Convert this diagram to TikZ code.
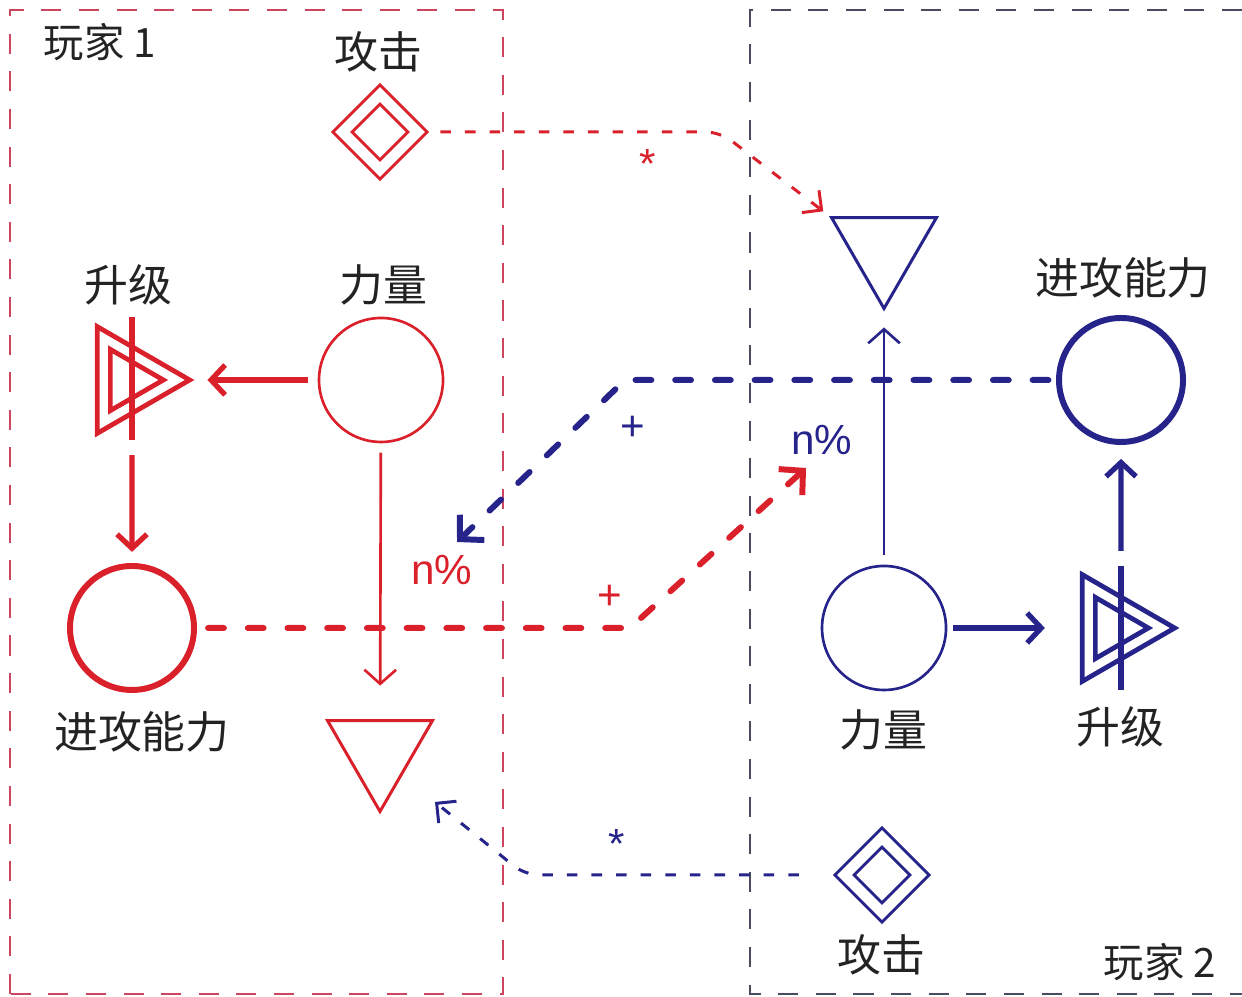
\documentclass[tikz,border=0pt]{standalone}
\usepackage{fontspec}
\newfontfamily\cjk{Noto Sans CJK SC}
\newfontfamily\arialfont{Liberation Sans}
\usetikzlibrary{arrows.meta, shapes.geometric, calc}
\definecolor{redc}{RGB}{218,32,42}
\definecolor{bluec}{RGB}{38,36,138}
\definecolor{redbox}{RGB}{205,70,95}
\definecolor{bluebox}{RGB}{75,75,95}
\definecolor{textc}{RGB}{35,35,35}
\tikzset{
  pool/.style={circle, draw, inner sep=0pt, outer sep=0pt, minimum size=1.24cm},
  drainnode/.style={regular polygon, regular polygon sides=3, shape border rotate=180, draw, line width=0.85pt, inner sep=0pt, outer sep=0pt, minimum size=1.21cm},
  upconv/.style={regular polygon, regular polygon sides=3, shape border rotate=-90, draw, line width=1.4pt, double, double distance=2.3pt, inner sep=0pt, outer sep=0pt, minimum size=0.97cm},
  trader/.style={diamond, aspect=1, draw, line width=0.85pt, double, double distance=3pt, inner sep=0pt, outer sep=0pt, minimum size=0.75cm},
  thinflow/.style={line width=0.75pt, -{Straight Barb[length=4pt, width=9pt]}},
  thickflow/.style={line width=1.5pt, -{Straight Barb[length=4pt, width=8.5pt]}},
  modline/.style={line width=1.7pt, line cap=round, dash pattern=on 4.5pt off 6.8pt, -{Straight Barb[length=4.8pt, width=10pt]}},
  trigline/.style={line width=0.85pt, dash pattern=on 3pt off 4pt, rounded corners=4pt, -{Straight Barb[length=4pt, width=8pt]}},
  boxline/.style={line width=0.6pt, dash pattern=on 5.7pt off 5pt},
  lbl/.style={font=\cjk\fontsize{12.5}{15}\selectfont, text=textc, inner sep=0pt},
  plabel/.style={font=\cjk\fontsize{11.5}{14}\selectfont, text=textc, inner sep=0pt},
  modlbl/.style={font=\arialfont\fontsize{12}{14}\selectfont, inner sep=0pt},
}

\begin{document}
\begin{tikzpicture}
\useasboundingbox (0,0) rectangle (12.42,9.97);
% player areas
\draw[boxline, redbox] (0.10,0.03) rectangle (5.03,9.87);
\draw[boxline, bluebox] (12.42,9.87) -- (7.50,9.87) -- (7.50,0.03) -- (12.42,0.03);
\node[plabel] (p1) at (1.00,9.55) {玩家 1};
\node[plabel] (p2) at (11.60,0.35) {玩家 2};
% player 1
\node[trader, redc] (att1) at (3.80,8.65) {};
\node[pool, redc, line width=0.75pt] (res1) at (3.81,6.17) {};
\node[upconv, redc] (up1) at (1.28,6.17) {};
\node[pool, redc, line width=1.7pt] (atk1) at (1.32,3.69) {};
\node[drainnode, redc] (drain1) at (3.80,2.46) {};
\draw[redc, line width=1.5pt] ($(up1)+(0.04,0.63)$) coordinate (up1top) -- ($(up1)+(0.04,-0.60)$) coordinate (up1bot);
% player 2
\node[trader, bluec] (att2) at (8.82,1.22) {};
\node[pool, bluec, line width=0.75pt] (res2) at (8.84,3.69) {};
\node[upconv, bluec] (up2) at (11.13,3.69) {};
\node[pool, bluec, line width=1.7pt] (atk2) at (11.21,6.17) {};
\node[drainnode, bluec] (drain2) at (8.84,7.49) {};
\draw[bluec, line width=1.5pt] ($(up2)+(0.08,0.62)$) coordinate (up2top) -- ($(up2)+(0.08,-0.62)$) coordinate (up2bot);
% labels
\node[lbl] (att1lbl) at (3.78,9.45) {攻击};
\node[lbl] (up1lbl) at (1.28,7.12) {升级};
\node[lbl] (res1lbl) at (3.83,7.12) {力量};
\node[lbl] (atk1lbl) at (1.42,2.65) {进攻能力};
\node[lbl] (res2lbl) at (8.83,2.67) {力量};
\node[lbl] (up2lbl) at (11.20,2.70) {升级};
\node[lbl] (atk2lbl) at (11.23,7.19) {进攻能力};
\node[lbl] (att2lbl) at (8.81,0.42) {攻击};
% resource flows
\draw[thickflow, redc, shorten <=3pt, shorten >=8.8pt] (res1.west) -- (up1.east);
\draw[thickflow, redc, shorten <=4.3pt, shorten >=4pt] (up1bot) -- (atk1);
\draw[thinflow, redc, shorten <=3pt, shorten >=10pt] (res1) -- (drain1);
\draw[thinflow, bluec, shorten <=3pt, shorten >=5.4pt] (res2) -- (drain2.corner 1);
\draw[thickflow, bluec, shorten <=2pt, shorten >=12.5pt] (res2.east) -- (up2.west);
\draw[thickflow, bluec, shorten <=4.3pt, shorten >=4.8pt] (up2top) -- (atk2);
% modifiers from attack power
\coordinate (redbend) at (6.30,3.69);
\coordinate (redtip) at (8.06,5.29);
\draw[modline, redc, shorten <=4pt] (atk1.east) -- (redbend) -- (redtip);
\coordinate (bluebend) at (6.25,6.17);
\coordinate (bluetip) at (4.57,4.55);
\draw[modline, bluec, shorten <=3pt] (atk2.west) -- (bluebend) -- (bluetip);
\node[modlbl, redc] (n1) at (4.42,4.27) {n\%};
\node[modlbl, bluec] (n2) at (8.22,5.57) {n\%};
\node[modlbl, bluec] (plus2) at (6.33,5.69) {+};
\node[modlbl, redc] (plus1) at (6.10,4.00) {+};
% attack triggers
\coordinate (reddotbend) at (7.20,8.65);
\draw[trigline, redc, shorten <=6.5pt, shorten >=3pt] (att1.east) -- (reddotbend) -- (drain2.corner 3);
\coordinate (bluedotbend) at (5.25,1.22);
\coordinate (bluedottip) at (4.35,1.95);
\draw[trigline, bluec, shorten <=13pt] (att2.west) -- (bluedotbend) -- (bluedottip);
\node[modlbl, redc] (star1) at (6.48,8.33) {*};
\node[modlbl, bluec] (star2) at (6.17,1.53) {*};
\end{tikzpicture}
\end{document}
